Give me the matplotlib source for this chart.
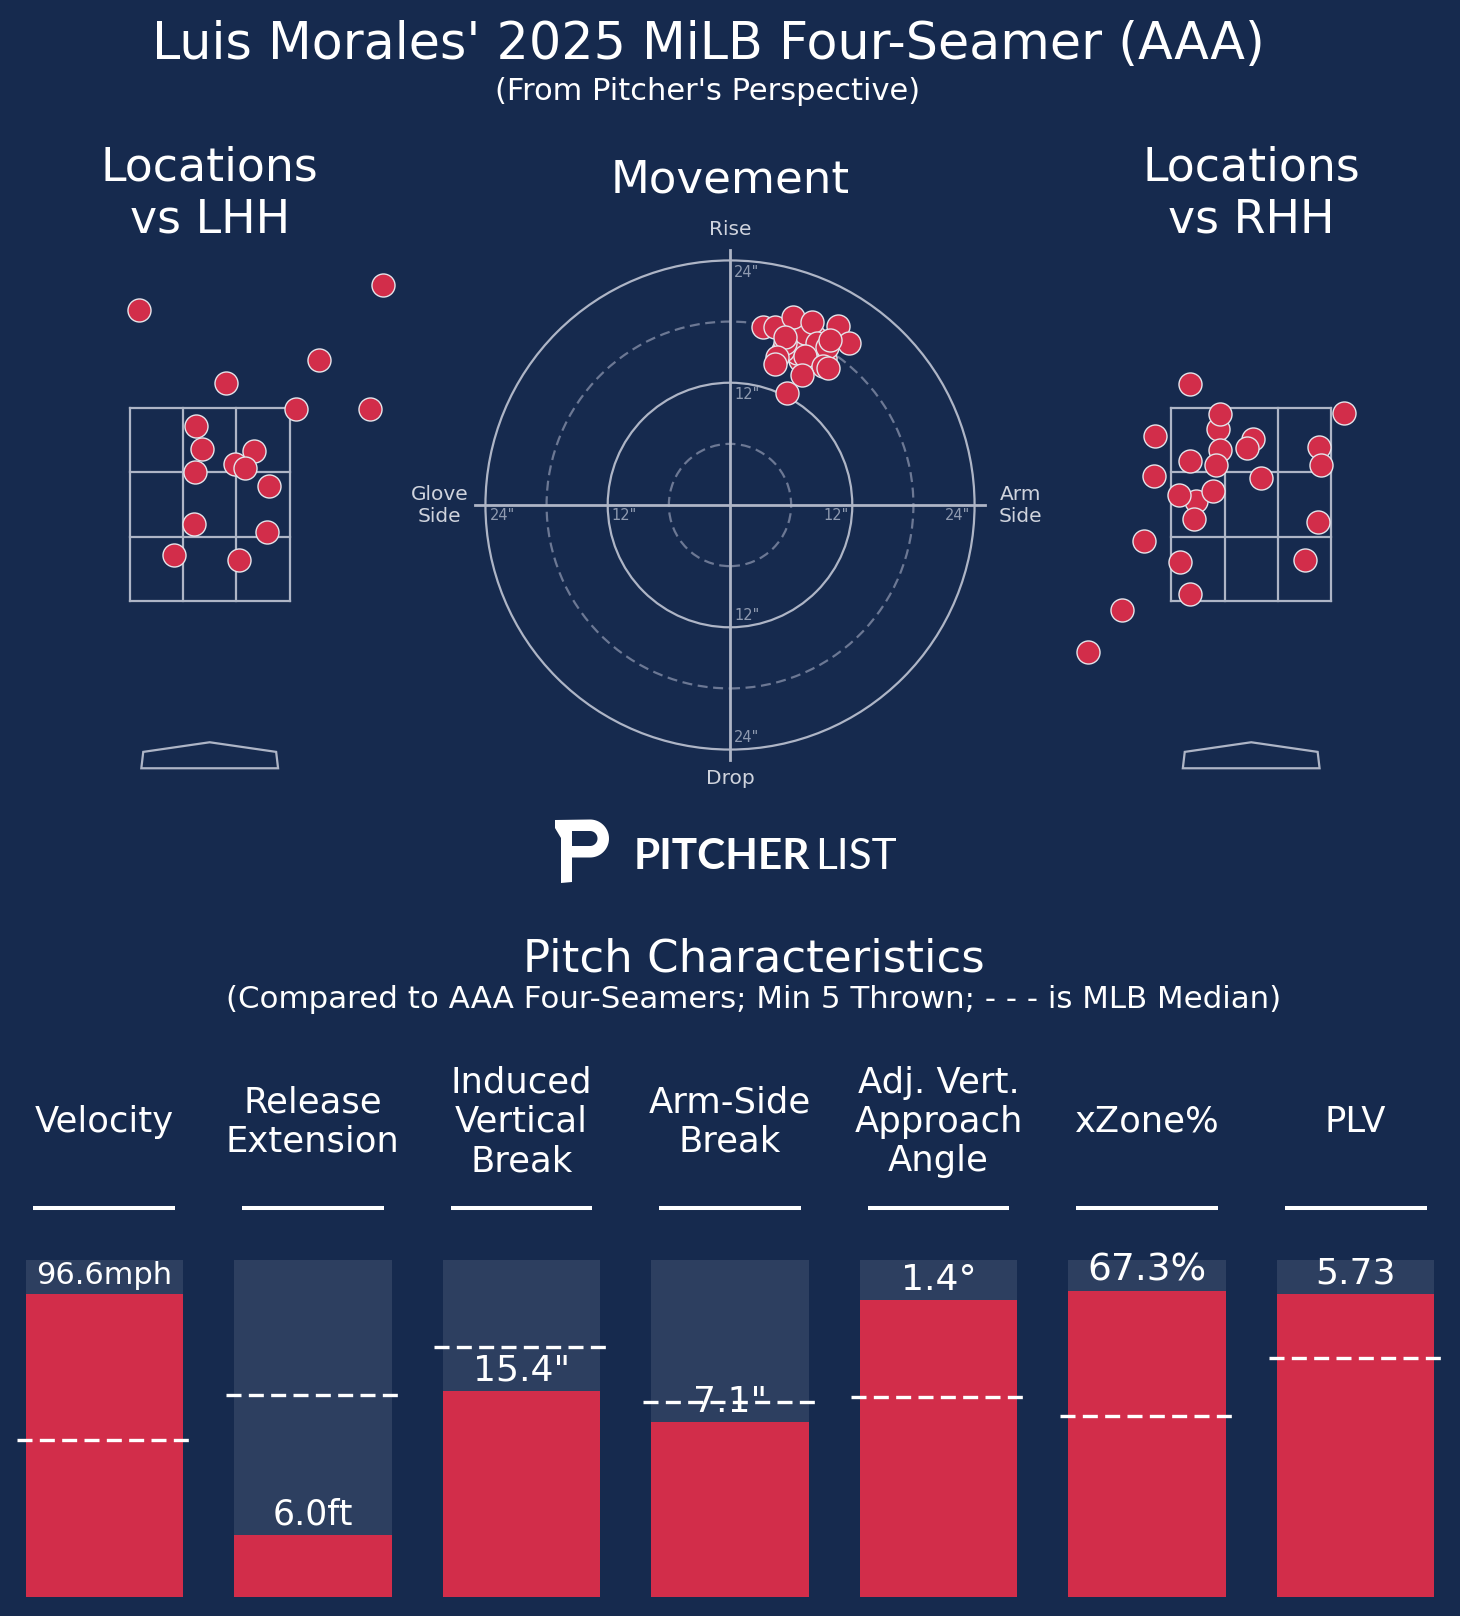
import matplotlib
matplotlib.use("Agg")
import matplotlib.pyplot as plt
from matplotlib.patches import Circle, Polygon, PathPatch
from matplotlib.path import Path
import numpy as np

W, H = 1460, 1616
BG = '#162a4e'
RED = '#d22d4a'
BAR_BG = '#2d3f60'
LINE = '#aeb5c6'
DIM = '#6c7894'

# pitch locations (feet), pitcher's perspective
lhh_x = [-0.73, 1.80, 1.13, 0.17, 0.90, 1.66, -0.14, -0.08, 0.46, -0.15, 0.26, 0.37, 0.62, -0.16, 0.60, -0.37, 0.30]
lhh_z = [4.52, 4.78, 4.00, 3.76, 3.49, 3.49, 3.31, 3.08, 3.05, 2.84, 2.92, 2.88, 2.69, 2.30, 2.21, 1.97, 1.92]

rhh_x = [-0.64, 0.96, -0.34, -0.32, -1.00, 0.02, -0.04, 0.70, -0.32, -0.64, -0.37, 0.72, -1.01, 0.10,
         -0.57, -0.75, -0.40, -0.59, 0.69, -1.11, -0.74, 0.56, -0.64, -1.34, -1.69]
rhh_z = [3.75, 3.45, 3.28, 3.44, 3.21, 3.18, 3.09, 3.10, 3.06, 2.95, 2.91, 2.91, 2.79, 2.77,
         2.54, 2.60, 2.64, 2.35, 2.32, 2.12, 1.90, 1.92, 1.57, 1.40, 0.97]

# movement (inches): horizontal break, induced vertical break
mov_hb = [8.34, 6.87, 9.32, 5.89, 6.54, 8.83, 5.23, 7.36, 3.27, 4.42, 6.22, 8.01, 10.57, 11.71,
          5.40, 8.51, 9.49, 5.40, 7.36, 4.58, 4.42, 9.16, 9.65, 7.03, 5.56, 9.81]
mov_ivb = [16.52, 14.23, 14.39, 15.21, 14.88, 15.21, 15.21, 16.91, 17.50, 17.50, 18.42, 17.99, 17.60, 15.87,
           15.93, 15.87, 15.54, 16.52, 14.66, 14.56, 13.84, 13.64, 13.41, 12.76, 10.96, 16.19]

# strike zone and plate outline (feet)
zone_x = [-0.83, 0.83]
zone_z = [1.5, 3.5]
plate_x = [-0.71, -0.69, 0.0, 0.69, 0.71]
plate_z = [-0.24, -0.07, 0.03, -0.07, -0.24]

# pitch characteristics
metrics = ['Velocity', 'Release\nExtension', 'Induced\nVertical\nBreak', 'Arm-Side\nBreak',
           'Adj. Vert.\nApproach\nAngle', 'xZone%', 'PLV']
values = ['96.6mph', '6.0ft', '15.4"', '7.1"', '1.4°', '67.3%', '5.73']
percentiles = [0.899, 0.185, 0.612, 0.519, 0.881, 0.908, 0.900]
medians = [0.467, 0.600, 0.743, 0.579, 0.594, 0.537, 0.709]
label_sizes = [22, 25, 26, 26, 26, 27, 26]

fig = plt.figure(figsize=(W / 100, H / 100), dpi=100, facecolor=BG)


def px_axes(left, top, w, h):
    ax = fig.add_axes([left / W, 1 - (top + h) / H, w / W, h / H])
    ax.axis('off')
    return ax


def ftext(x, y, s, **kw):
    kw.setdefault('color', 'white')
    fig.text(x / W, 1 - y / H, s, **kw)


ftext(708, 59, "Luis Morales' 2025 MiLB Four-Seamer (AAA)", ha='center', va='baseline', fontsize=36.5)
ftext(708, 100, "(From Pitcher's Perspective)", ha='center', va='baseline', fontsize=22)


def location_plot(cx, xs, zs, title):
    sc = 96.3
    ax = px_axes(cx - 2.0 * sc, 600.7 - 3.7 * sc, 4.0 * sc, 5.8 * sc)
    ax.set_xlim(-2, 2)
    ax.set_ylim(-0.6, 5.2)
    for xv in np.linspace(zone_x[0], zone_x[1], 4):
        ax.plot([xv, xv], zone_z, color=LINE, lw=1.6)
    for zv in np.linspace(zone_z[0], zone_z[1], 4):
        ax.plot(zone_x, [zv, zv], color=LINE, lw=1.6)
    ax.add_patch(Polygon(list(zip(plate_x, plate_z)), closed=True, fill=False, ec=LINE, lw=1.6))
    ax.scatter(xs, zs, s=275, c=RED, edgecolors='#e4e4ea', linewidths=1.0, zorder=3, clip_on=False)
    ftext(cx, 194, title, ha='center', va='center', fontsize=33, linespacing=1.2)


location_plot(209.7, lhh_x, lhh_z, 'Locations\nvs LHH')
location_plot(1251.2, rhh_x, rhh_z, 'Locations\nvs RHH')

# movement plot
ppi = 10.19
ax = px_axes(730 - 30 * ppi, 505 - 30 * ppi, 60 * ppi, 60 * ppi)
ax.set_xlim(-30, 30)
ax.set_ylim(-30, 30)
for r, ls, col in [(6, (0, (4.5, 2.5)), DIM), (12, '-', LINE), (18, (0, (4.5, 2.5)), DIM), (24, '-', LINE)]:
    ax.add_patch(Circle((0, 0), r, fill=False, ec=col, lw=1.6, ls=ls))
ax.plot([-25, 25], [0, 0], color=LINE, lw=2)
ax.plot([0, 0], [-25, 25], color=LINE, lw=2)
tick_kw = dict(fontsize=10.5, color='#8f9ab0', va='center')
for r in (12, 24):
    lab = f'{r}"'
    ax.text(0.4, r - 1.2, lab, ha='left', **tick_kw)
    ax.text(0.4, -r + 1.2, lab, ha='left', **tick_kw)
    ax.text(-r + 0.4, -1.0, lab, ha='left', **tick_kw)
    ax.text(r - 0.4, -1.0, lab, ha='right', **tick_kw)
side_kw = dict(fontsize=14.5, color='#cfd3dd', ha='center', va='center', linespacing=1.2)
ax.text(0, 27.0, 'Rise', **side_kw)
ax.text(0, -26.8, 'Drop', **side_kw)
ax.text(-28.5, 0, 'Glove\nSide', **side_kw)
ax.text(28.5, 0, 'Arm\nSide', **side_kw)
ax.scatter(mov_hb, mov_ivb, s=275, c=RED, edgecolors='#e4e4ea', linewidths=1.0, zorder=3)
ftext(730, 180, 'Movement', ha='center', va='center', fontsize=32.5)

# logo: P mark drawn as a shape, wordmark as text
lax = px_axes(540, 800, 80, 100)
lax.set_xlim(540, 620)
lax.set_ylim(900, 800)
t = np.radians(np.linspace(-90, 90, 40))
outer = [(555, 820)] + [(590 + 19 * np.cos(a), 838.5 + 19 * np.sin(a)) for a in t] + \
        [(572, 857.5), (572, 882), (561, 883), (561, 838), (555, 828), (555, 820)]
inner = [(572, 831)] + [(590 + 7.5 * np.cos(a), 838.5 + 7.5 * np.sin(a)) for a in t] + \
        [(572, 846), (572, 831)]
inner = inner[::-1]
verts = outer + inner
codes = [Path.MOVETO] + [Path.LINETO] * (len(outer) - 2) + [Path.CLOSEPOLY] + \
        [Path.MOVETO] + [Path.LINETO] * (len(inner) - 2) + [Path.CLOSEPOLY]
lax.add_patch(PathPatch(Path(verts, codes), facecolor='white', edgecolor='none'))
ftext(634, 869.5, 'PITCHER', ha='left', va='baseline', fontsize=30.5, fontweight='bold', family='Lato')
ftext(815, 869.5, 'LIST', ha='left', va='baseline', fontsize=30.5, fontweight='normal', family='Lato')

# pitch characteristics
ftext(754, 959, 'Pitch Characteristics', ha='center', va='center', fontsize=32.5)
ftext(754, 1000, '(Compared to AAA Four-Seamers; Min 5 Thrown; - - - is MLB Median)',
      ha='center', va='center', fontsize=22.2)

top, bot = 1260, 1597.3
ax = px_axes(0, top, W, bot - top)
ax.set_xlim(-0.5, 6.5)
ax.set_ylim(0, 1)
xs = np.arange(len(metrics))
ax.bar(xs, np.ones(len(xs)), width=0.755, color=BAR_BG)
ax.bar(xs, percentiles, width=0.755, color=RED)
ax.hlines(medians, xs - 0.4175, xs + 0.4175, colors='white', lw=2.4, linestyles=[(0, (4.5, 2.2))], zorder=4)
to_y = lambda py: (bot - py) / (bot - top)
for x, name, val, p, sz in zip(xs, metrics, values, percentiles, label_sizes):
    ax.text(x, to_y(1122), name, ha='center', va='center', fontsize=25.5, color='white',
            linespacing=1.2, clip_on=False)
    ax.plot([x - 0.34, x + 0.34], [to_y(1208.3)] * 2, color='white', lw=2.9,
            solid_capstyle='butt', clip_on=False)
    ax.annotate(val, (x, p), xytext=(0, 7.5), textcoords='offset points', ha='center',
                va='baseline', fontsize=sz, color='white', zorder=3)

fig.savefig('out.png', dpi=100, facecolor=BG)
